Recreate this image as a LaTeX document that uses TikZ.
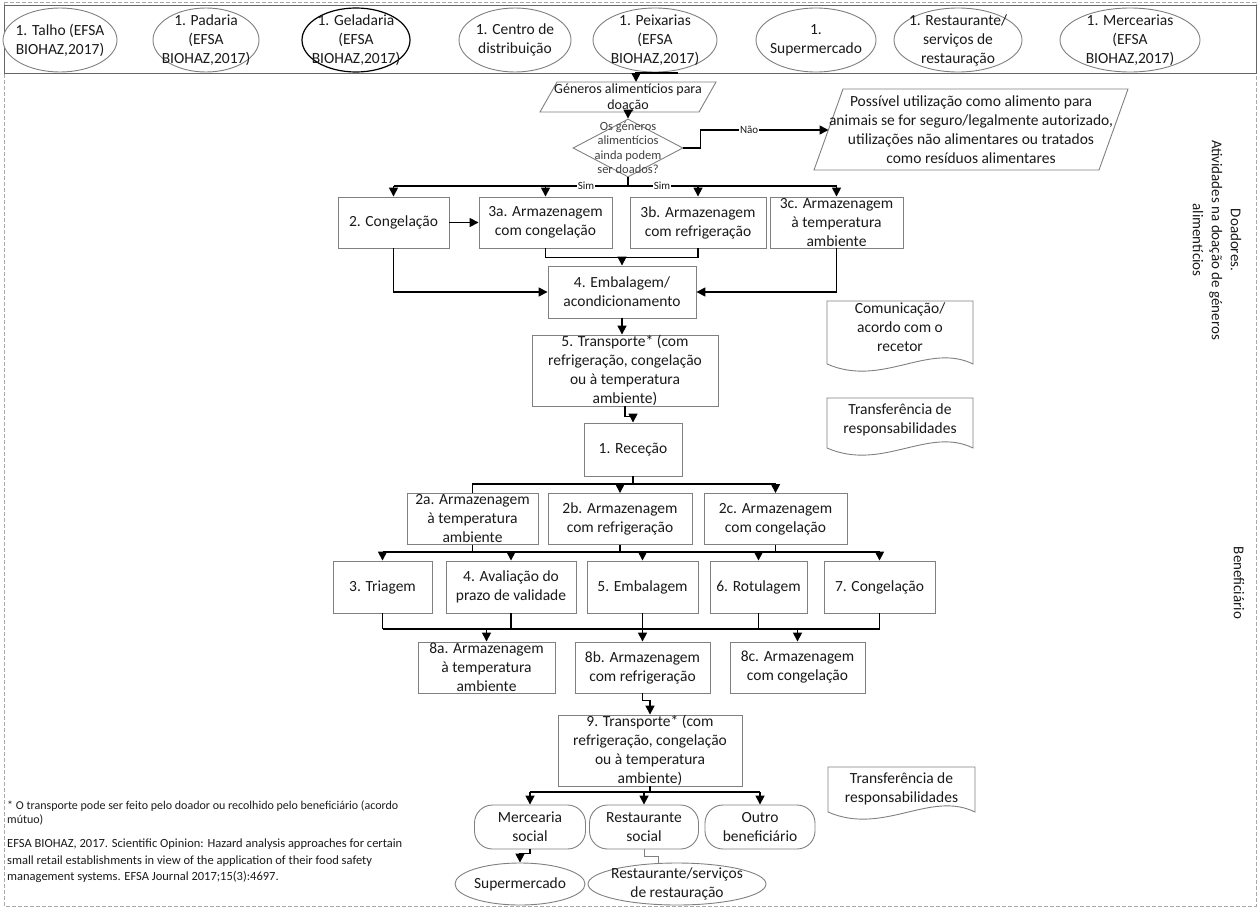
\documentclass[tikz,border=0pt]{standalone}
\usepackage{fontspec}
\setmainfont{Carlito}
\usetikzlibrary{arrows.meta,shapes.geometric,calc}
\definecolor{bgray}{HTML}{808080}
\definecolor{dgray}{HTML}{A8A8A8}
\definecolor{tcol}{HTML}{1A1A1A}
\newcommand{\bxf}{\fontsize{15.5}{19}\selectfont}
\newcommand{\gnf}{\fontsize{14}{16.5}\selectfont}
\newcommand{\smf}{\fontsize{12.5}{14.5}\selectfont}
\newcommand{\ftf}{\fontsize{12}{13.5}\selectfont}
\newcommand{\ftg}{\fontsize{12.5}{16.5}\selectfont}
\newcommand{\lbf}{\fontsize{11}{13}\selectfont}
\newcommand{\sdf}{\fontsize{15}{19}\selectfont}
\newcommand{\bx}[6]{\node[box, minimum width=#4pt, minimum height=#5pt] (#1) at (#2,#3) {};
  \node[txt] (#1-t) at (#1.center) {#6};}
\newcommand{\el}[6]{\node[ell, minimum width=#4pt, minimum height=#5pt] (#1) at (#2,#3) {};
  \node[txt] (#1-t) at (#1.center) {#6};}
\newcommand{\docsh}[4]{\draw[draw=bgray, line width=0.9pt, fill=white] (#1,#4) -- (#1,#2) -- (#3,#2) -- (#3,#4)
  .. controls ({#3-45},{#4-22}) and ({#1+55},{#4+24}) .. (#1,#4) -- cycle;}
\begin{document}
\begin{tikzpicture}[x=1pt,y=-1pt,
  box/.style={draw=bgray, line width=0.9pt, fill=white, rectangle, inner sep=0pt},
  ell/.style={ellipse, draw=bgray, line width=0.9pt, fill=white, inner sep=0pt},
  txt/.style={align=center, font=\bxf, text=tcol, inner sep=0pt},
  line/.style={line width=1.6pt, draw=black},
  conn/.style={line, -{Triangle[length=9pt,width=9pt]}},
  lbl/.style={font=\lbf, fill=white, inner sep=1pt, text=tcol}]
\useasboundingbox (0,0) rectangle (1260,910);
% frames
\draw[dgray, dash pattern=on 4pt off 2pt, line width=0.8pt] (4,2) rectangle (1256,906);
\node[draw=bgray!80!black, line width=1pt, fill=white, minimum width=1252pt, minimum height=68pt, inner sep=0pt] (topbox) at (630,39) {};
% top row ellipses
\el{e1}{60}{40}{114}{64}{1. Talho (EFSA\\BIOHAZ,2017)}
\el{e2}{206}{40}{106}{64}{1. Padaria\\(EFSA\\BIOHAZ,2017)}
\node[ell, draw=black, line width=1.2pt, minimum width=108pt, minimum height=64pt] (e3) at (356,40) {};
\node[txt] (e3-t) at (e3.center) {1. Geladaria\\(EFSA\\BIOHAZ,2017)};
\el{e4}{515}{40}{112}{64}{1. Centro de\\distribuição}
\el{e5}{655}{40}{124}{64}{1. Peixarias\\(EFSA\\BIOHAZ,2017)}
\el{e6}{816}{40}{120}{64}{1.\\Supermercado}
\el{e7}{958}{40}{128}{64}{1. Restaurante/\\serviços de\\restauração}
\el{e8}{1130}{40}{140}{64}{1. Mercearias\\(EFSA\\BIOHAZ,2017)}
% donation input (parallelogram)
\draw[bgray, line width=0.9pt, fill=white] (557,82) -- (716,82) -- (699,112) -- (540,112) -- cycle;
\node[txt, font=\gnf] (gen) at (628,98) {Géneros alimentícios para\\doação};
\coordinate (genN) at (636,82);
\coordinate (genS) at (628,112);
\node[diamond, draw=bgray, line width=0.9pt, minimum width=110pt, minimum height=58pt, inner sep=0pt] (q) at (628,148) {};
\node[txt, font=\smf, text=black!75] (q-t) at (q.center) {Os géneros\\alimentícios\\ainda podem\\ser doados?};
\draw[bgray, line width=0.9pt, fill=white] (843,89) -- (1128,89) -- (1099,170) -- (814,170) -- cycle;
\node[txt] (pos) at (971,130) {Possível utilização como alimento para\\animais se for seguro/legalmente autorizado,\\utilizações não alimentares ou tratados\\como resíduos alimentares};
\coordinate (posW) at (828.5,130);
% donor boxes
\bx{cong}{393.5}{222.5}{111}{51}{2. Congelação}
\bx{c3a}{545.5}{222.5}{133}{51}{3a. Armazenagem\\com congelação}
\bx{c3b}{698}{222.5}{136}{51}{3b. Armazenagem\\com refrigeração}
\bx{c3c}{836.5}{222.5}{133}{51}{3c. Armazenagem\\à temperatura\\ambiente}
\bx{emb}{622}{292}{148}{52}{4. Embalagem/\\acondicionamento}
\bx{tr5}{625}{370.5}{186}{71}{5. Transporte* (com\\refrigeração, congelação\\ou à temperatura\\ambiente)}
\bx{rec}{633}{449.5}{98}{53}{1. Receção}
% beneficiary boxes
\bx{s2a}{472.5}{519}{131}{51}{2a. Armazenagem\\à temperatura\\ambiente}
\bx{s2b}{620}{519}{144}{51}{2b. Armazenagem\\com refrigeração}
\bx{s2c}{775.5}{519}{143}{51}{2c. Armazenagem\\com congelação}
\bx{t3}{382.5}{587}{99}{52}{3. Triagem}
\bx{t4}{511}{587}{130}{52}{4. Avaliação do\\prazo de validade}
\bx{t5}{642.5}{587}{111}{52}{5. Embalagem}
\bx{t6}{758.5}{587}{97}{52}{6. Rotulagem}
\bx{t7}{879.5}{587}{111}{52}{7. Congelação}
\bx{s8a}{486.5}{667.5}{137}{51}{8a. Armazenagem\\à temperatura\\ambiente}
\bx{s8b}{642.5}{667.5}{135}{51}{8b. Armazenagem\\com refrigeração}
\bx{s8c}{797.5}{667.5}{135}{51}{8c. Armazenagem\\com congelação}
\bx{tr9}{650}{750.5}{184}{71}{9. Transporte* (com\\refrigeração, congelação\\ou à temperatura\\ambiente)}
\node[box, rounded corners=18pt, minimum width=111pt, minimum height=44pt] (mer) at (530,827) {};
\node[txt] (mer-t) at (mer.center) {Mercearia\\social};
\node[box, rounded corners=18pt, minimum width=109pt, minimum height=44pt] (rsoc) at (644,827) {};
\node[txt] (rsoc-t) at (rsoc.center) {Restaurante\\social};
\node[box, rounded corners=18pt, minimum width=110pt, minimum height=44pt] (outro) at (760,827) {};
\node[txt] (outro-t) at (outro.center) {Outro\\beneficiário};
\el{supm}{520}{884}{130}{42}{Supermercado}
\el{rest}{677}{884}{178}{42}{Restaurante/serviços\\de restauração}
% documents
\docsh{827}{301}{973}{364}
\node[txt] (com) at (900,327) {Comunicação/\\acordo com o\\recetor};
\docsh{827}{398}{973}{448}
\node[txt] (tf1) at (900,420) {Transferência de\\responsabilidades};
\docsh{828}{767}{975}{812}
\node[txt] (tf2) at (901.5,789) {Transferência de\\responsabilidades};
% side labels
\node[rotate=-90, align=center, font=\sdf, text=tcol] (doa) at (1217,240) {Doadores.\\Atividades na doação de géneros\\alimentícios};
\node[rotate=-90, font=\sdf, text=tcol] (ben) at (1239,583) {Beneficiário};
% footnotes
\node[anchor=north west, align=left, font=\ftf, text=tcol, inner sep=0pt] (fn1) at (7,801) {* O transporte pode ser feito pelo doador ou recolhido pelo beneficiário (acordo\\mútuo)};
\node[anchor=north west, align=left, font=\ftg, text=tcol, inner sep=0pt] (fn2) at (7,839) {EFSA BIOHAZ, 2017. Scientific Opinion: Hazard analysis approaches for certain\\small retail establishments in view of the application of their food safety\\management systems. EFSA Journal 2017;15(3):4697.};
% connectors
\coordinate (ta) at (678,73);
\draw[conn] (ta) -| (genN);
\draw[conn] (genS) -- (q.north);
\draw[conn] (q.east) -- ++(17,0) |- (posW) node[lbl, pos=0.69] (nao) {Não};
\coordinate (sy) at (0,186);
\draw[line] (q.south) -- (q.south |- sy);
\draw[line] (cong.north |- sy) -- (c3c.north |- sy);
\foreach \n in {cong,c3a,c3b,c3c} \draw[conn] (\n.north |- sy) -- (\n.north);
\node[lbl] (sim1) at (586,186) {Sim};
\node[lbl] (sim2) at (662,186) {Sim};
\draw[conn] (cong.east) -- (c3a.west);
\coordinate (j1) at ($(c3a.south)+(0,9)$);
\draw[line] (c3a.south) -- (j1) -| (c3b.south);
\draw[conn] (j1 -| emb.north) -- (emb.north);
\draw[conn] (cong.south) |- (emb.west);
\draw[conn] (c3c.south) |- (emb.east);
\draw[conn] (emb.south) -- (emb.south |- tr5.north);
\draw[conn] (tr5.south) -- ++(0,10) -| (rec.north);
\coordinate (j2) at ($(s2b.north)+(0,-9)$);
\draw[line] (rec.south) |- (j2);
\draw[conn] (s2a.north) |- (j2) -- (s2b.north);
\draw[conn] (rec.south) |- ($(s2c.north)+(0,-9)$) -- (s2c.north);
\coordinate (h2) at (0,552);
\foreach \n in {s2a,s2b,s2c} \draw[line] (\n.south) -- (\n.south |- h2);
\draw[line] (t3.north |- h2) -- (t7.north |- h2);
\foreach \n in {t3,t4,t5,t6,t7} \draw[conn] (\n.north |- h2) -- (\n.north);
\coordinate (h3) at (0,629);
\foreach \n in {t3,t4,t5,t6,t7} \draw[line] (\n.south) -- (\n.south |- h3);
\draw[line] (t3.south |- h3) -- (t7.south |- h3);
\foreach \n in {s8a,s8b,s8c} \draw[conn] (\n.north |- h3) -- (\n.north);
\draw[conn] (s8b.south) -- ++(0,7) -| (tr9.north);
\coordinate (h9) at (0,792);
\draw[line] (tr9.south) -- (tr9.south |- h9);
\draw[line] (mer.north |- h9) -- (outro.north |- h9);
\foreach \n in {mer,rsoc,outro} \draw[conn] (\n.north |- h9) -- (\n.north);
\draw[conn] (mer.south) -- ++(0,4) -| (supm.north);
\draw[bgray, line width=0.8pt] (rsoc.south) -- ++(0,7) -| ($(rest.north)+(-19,0)$);
\end{tikzpicture}
\end{document}
